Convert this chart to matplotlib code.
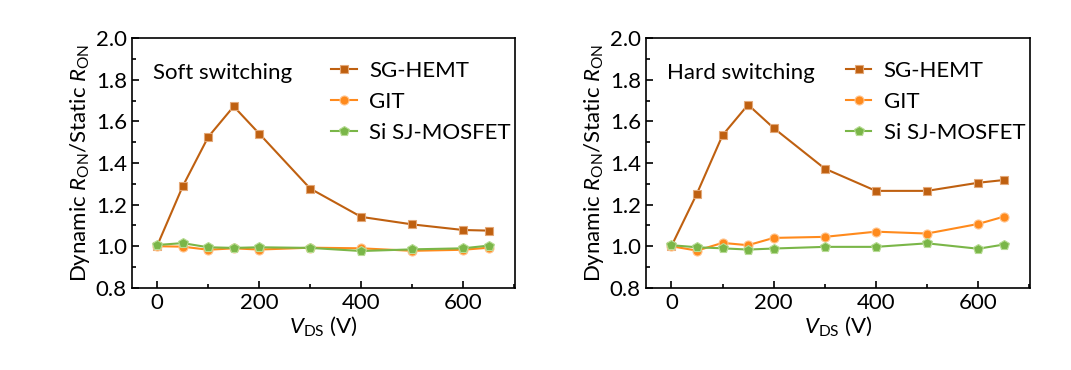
import matplotlib.pyplot as plt
from matplotlib.ticker import MultipleLocator

# ----------------- DATA -----------------
VDS = [0, 50, 100, 150, 200, 300, 400, 500, 600, 650]

SOFT_SG = [1.003, 1.288, 1.525, 1.672, 1.541, 1.277, 1.141, 1.105, 1.078, 1.075]
SOFT_GIT = [1.000, 0.998, 0.983, 0.990, 0.984, 0.993, 0.990, 0.978, 0.983, 0.993]
SOFT_SI = [1.006, 1.015, 0.995, 0.992, 0.995, 0.992, 0.977, 0.985, 0.990, 1.003]

HARD_SG = [1.000, 1.253, 1.533, 1.680, 1.568, 1.373, 1.266, 1.266, 1.305, 1.318]
HARD_GIT = [1.000, 0.979, 1.016, 1.005, 1.040, 1.045, 1.070, 1.061, 1.107, 1.142]
HARD_SI = [1.005, 0.995, 0.990, 0.984, 0.989, 0.997, 0.997, 1.014, 0.988, 1.008]

LABELS = ["SG-HEMT", "GIT", "Si SJ-MOSFET"]
TITLES = ["Soft switching", "Hard switching"]

# ----------------- STYLE -----------------
COLORS = ["#BF6010", "#FF8A1C", "#7AB648"]
EDGES = ["#E3A878", "#FFC58F", "#B8DC95"]
MARKERS = ["s", "o", "p"]
MSIZES = [5.5, 6.5, 7]

plt.rcParams["font.family"] = ["Lato", "DejaVu Sans"]
plt.rcParams["mathtext.fontset"] = "custom"
plt.rcParams["mathtext.it"] = "Lato:italic"
plt.rcParams["mathtext.rm"] = "Lato"
FS = 16

fig = plt.figure(figsize=(10.71, 3.70), dpi=100)
ax1 = fig.add_axes([0.123, 0.222, 0.358, 0.675])
ax2 = fig.add_axes([0.603, 0.222, 0.359, 0.675])

panels = [
    (ax1, [SOFT_SG, SOFT_GIT, SOFT_SI], TITLES[0]),
    (ax2, [HARD_SG, HARD_GIT, HARD_SI], TITLES[1]),
]

for ax, series, title in panels:
    for ys, lab, c, ec, m, ms in zip(series, LABELS, COLORS, EDGES, MARKERS, MSIZES):
        ax.plot(VDS, ys, color=c, marker=m, markersize=ms, markerfacecolor=c,
                markeredgecolor=ec, markeredgewidth=0.8, linewidth=1.5, label=lab)

    ax.set_xlim(-50, 702)
    ax.set_ylim(0.8, 2.0)
    ax.xaxis.set_major_locator(MultipleLocator(200))
    ax.xaxis.set_minor_locator(MultipleLocator(100))
    ax.yaxis.set_major_locator(MultipleLocator(0.2))
    ax.yaxis.set_minor_locator(MultipleLocator(0.1))
    ax.yaxis.set_major_formatter(plt.FormatStrFormatter("%.1f"))
    ax.tick_params(which="both", direction="in", labelsize=FS, width=1.2)
    ax.tick_params(which="major", length=5)
    ax.tick_params(which="minor", length=3)
    for sp in ax.spines.values():
        sp.set_linewidth(1.2)

    ax.set_xlabel(r"$V_{\mathrm{DS}}$ (V)", fontsize=FS, labelpad=1)
    ax.set_ylabel(r"Dynamic $R_{\mathrm{ON}}$/Static $R_{\mathrm{ON}}$", fontsize=FS, labelpad=3)
    ax.text(0.055, 0.86, title, transform=ax.transAxes, fontsize=FS, va="center")
    ax.legend(loc="upper left", bbox_to_anchor=(0.52, 0.91), frameon=False,
              fontsize=FS, handlelength=1.15, handletextpad=0.55, labelspacing=0.5,
              borderaxespad=0, borderpad=0)

fig.savefig("out.png", dpi=100)
